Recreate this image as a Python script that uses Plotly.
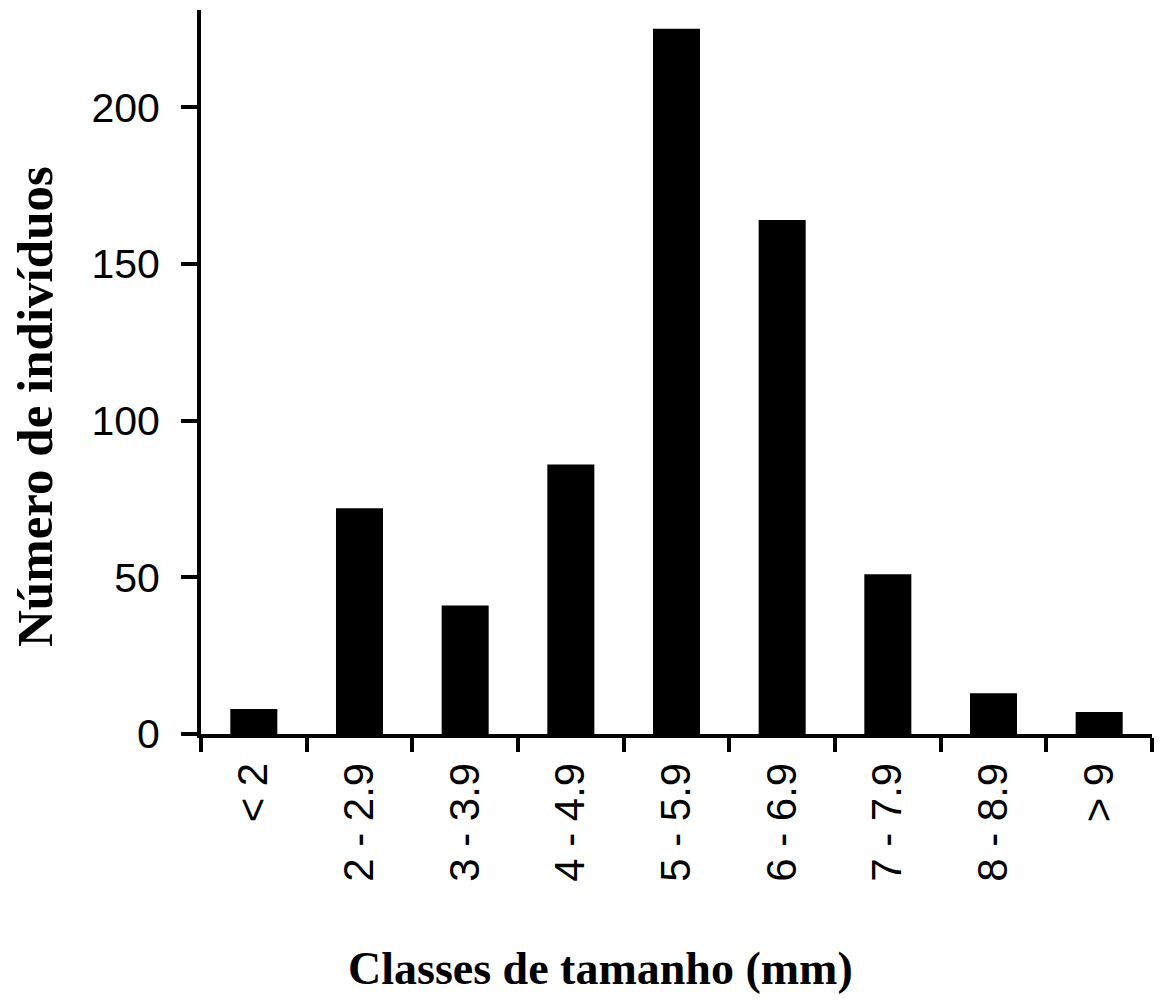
import plotly.graph_objects as go

categories = ["< 2", "2 - 2.9", "3 - 3.9", "4 - 4.9", "5 - 5.9", "6 - 6.9", "7 - 7.9", "8 - 8.9", "> 9"]
counts = [8, 72, 41, 86, 225, 164, 51, 13, 7]
y_ticks = [0, 50, 100, 150, 200]

W, H = 1162, 1000
L, T, R, B = 201, 10, 10, 266
pw, ph = W - L - R, H - T - B

fig = go.Figure(go.Bar(x=categories, y=counts, marker=dict(color="black", line=dict(width=0))))

fig.update_layout(
    width=W, height=H,
    margin=dict(l=L, r=R, t=T, b=B, autoexpand=False),
    paper_bgcolor="white", plot_bgcolor="white",
    bargap=0.555,
    showlegend=False,
    font=dict(family="Liberation Sans, Arial", color="black", size=41),
)
fig.update_xaxes(
    showline=True, linecolor="black", linewidth=4,
    ticks="outside", tickson="boundaries", ticklen=14, tickwidth=4, tickcolor="black",
    tickangle=-90, tickfont=dict(size=42), showgrid=False, zeroline=False,
    ticklabelstandoff=8,
)
fig.update_yaxes(
    range=[0, 231], tickvals=y_ticks,
    showline=True, linecolor="black", linewidth=4,
    ticks="outside", ticklen=16, tickwidth=4, tickcolor="black",
    tickfont=dict(size=41), showgrid=False, zeroline=False,
    ticklabelstandoff=13,
)
fig.add_annotation(
    text="<b>Classes de tamanho (mm)</b>", xref="paper", yref="paper",
    x=(600 - L) / pw, y=-(968 - (H - B)) / ph, xanchor="center", yanchor="middle",
    showarrow=False, font=dict(family="Liberation Serif, Times New Roman", size=46, color="black"),
)
fig.add_annotation(
    text="<b>Número de indivíduos</b>", xref="paper", yref="paper",
    x=-(L - 35) / pw, y=((H - B) - 407) / ph, xanchor="center", yanchor="middle", textangle=-90,
    showarrow=False, font=dict(family="Liberation Serif, Times New Roman", size=51, color="black"),
)
fig.write_html(
    "out.html",
    config={"displayModeBar": False},
    post_script="document.body.style.margin='0px';",
)
